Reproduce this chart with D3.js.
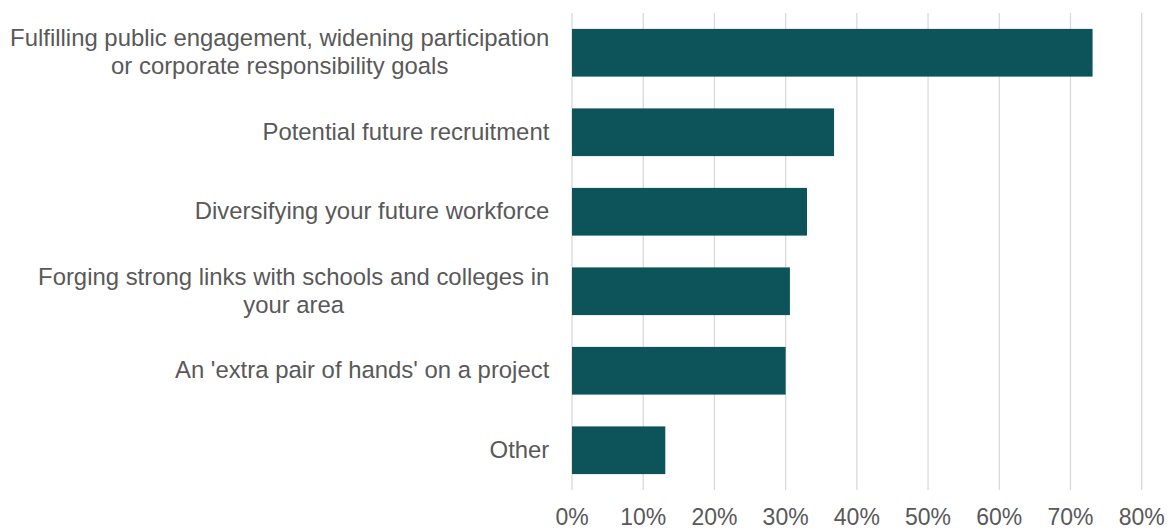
<!DOCTYPE html>
<html>
<head>
<meta charset="utf-8">
<script src="https://cdn.jsdelivr.net/npm/d3@7"></script>
<style>
  html, body { margin: 0; padding: 0; background: #ffffff; }
  svg { display: block; }
  text { font-family: "Liberation Sans", Arial, sans-serif; fill: #595959; }
</style>
</head>
<body>
<svg id="chart" width="1171" height="530"></svg>
<script>
// Reasons given for taking part (share of respondents)
const categories = [
  ["Fulfilling public engagement, widening participation", "or corporate responsibility goals"],
  ["Potential future recruitment"],
  ["Diversifying your future workforce"],
  ["Forging strong links with schools and colleges in", "your area"],
  ["An 'extra pair of hands' on a project"],
  ["Other"]
];
const values = [0.731, 0.368, 0.330, 0.306, 0.300, 0.131];
const tickValues = [0, 0.1, 0.2, 0.3, 0.4, 0.5, 0.6, 0.7, 0.8];

const svg = d3.select("#chart");
const labelSize = 23.9;
const tickSize = 23;
const lineGap = 27.6;
const labelRight = 549.3;

const x = d3.scaleLinear().domain([0, 0.8]).range([572, 1141.7]);
const y = d3.scaleBand()
  .domain(d3.range(categories.length))
  .range([13, 490])
  .paddingInner(0.4)
  .paddingOuter(0.2);

// vertical gridlines
svg.append("g")
  .selectAll("line")
  .data(tickValues)
  .join("line")
  .attr("x1", d => x(d)).attr("x2", d => x(d))
  .attr("y1", 13).attr("y2", 490)
  .attr("stroke", "#d9d9d9")
  .attr("stroke-width", 1.3);

// bars
svg.append("g")
  .selectAll("rect")
  .data(values)
  .join("rect")
  .attr("x", x(0))
  .attr("y", (d, i) => y(i))
  .attr("width", d => x(d) - x(0))
  .attr("height", y.bandwidth())
  .attr("fill", "#0d535a");

// x tick labels
const fmt = d3.format(".0%");
svg.append("g")
  .selectAll("text")
  .data(tickValues)
  .join("text")
  .attr("x", d => x(d))
  .attr("y", 525)
  .attr("text-anchor", "middle")
  .style("font-size", tickSize + "px")
  .text(d => fmt(d));

// category labels: lines centred on each other, block right-aligned to the axis
const labels = svg.append("g");
categories.forEach((lines, i) => {
  const cy = y(i) + y.bandwidth() / 2;
  const g = labels.append("g").attr("transform", `translate(${labelRight},0)`);
  const texts = lines.map((ln, j) =>
    g.append("text")
      .attr("y", cy + 7.5 + (j - (lines.length - 1) / 2) * lineGap)
      .attr("text-anchor", "middle")
      .style("font-size", labelSize + "px")
      .text(ln));
  const maxW = d3.max(texts, t => t.node().getComputedTextLength());
  texts.forEach(t => t.attr("x", -maxW / 2));
});
</script>
</body>
</html>
